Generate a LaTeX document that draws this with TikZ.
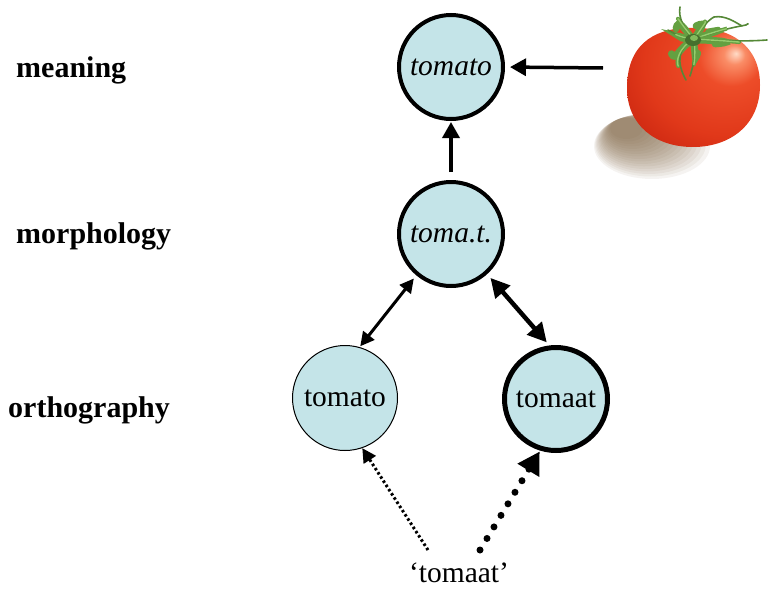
\documentclass[tikz,border=0pt]{standalone}
\usepackage{fontspec}
\setmainfont{Liberation Serif}
\usetikzlibrary{arrows.meta,calc}
\definecolor{nodefill}{RGB}{196,228,232}
\definecolor{leafgreen}{RGB}{100,160,65}
\definecolor{leaflight}{RGB}{150,205,110}
\definecolor{shadowbrown}{RGB}{120,92,58}
\pgfdeclareradialshading{tomshade}{\pgfpoint{16bp}{14bp}}{%
  rgb(0bp)=(1,0.86,0.78); rgb(4bp)=(0.98,0.55,0.4); rgb(12bp)=(0.93,0.3,0.16);
  rgb(30bp)=(0.88,0.22,0.1); rgb(48bp)=(0.76,0.12,0.05); rgb(62bp)=(0.6,0.06,0.03); rgb(100bp)=(0.55,0.05,0.02)}
\tikzset{
  every node/.style={font=\fontsize{29.5}{35}\selectfont},
  level/.style={font=\fontsize{30}{36}\selectfont\bfseries, anchor=base west, inner sep=0pt},
  circnode/.style={circle, fill=nodefill, draw=black, inner sep=0pt},
  thickc/.style={circnode, line width=4pt, minimum size=104pt},
  thinc/.style={circnode, line width=1pt, minimum size=105pt},
  heavyc/.style={circnode, line width=5pt, minimum size=103pt},
  arr/.style={line width=3.5pt, -{Triangle[length=16pt,width=17pt]}},
  dblthin/.style={line width=3pt, {Triangle[length=14pt,width=14pt]}-{Triangle[length=14pt,width=14pt]}},
  dblthick/.style={line width=4.5pt, {Triangle[length=19pt,width=19pt]}-{Triangle[length=19pt,width=19pt]}},
  finedots/.style={line width=3pt, dash pattern=on 2.5pt off 2.5pt, -{Triangle[length=14pt,width=14pt]}},
  bigdots/.style={line width=7pt, line cap=round, dash pattern=on 0pt off 13.5pt, -{Triangle[length=22pt,width=24pt]}},
  leafa/.style={draw=leafgreen, line width=7pt, line cap=round, shorten >=#1},
  leafb/.style={draw=leafgreen, line width=4pt, line cap=round, shorten >=#1},
  leafc/.style={draw=leafgreen!85!black, line width=1.6pt, line cap=round},
  leafhi/.style={draw=leaflight, line width=1.4pt, line cap=round, shorten >=#1}
}
\begin{document}
\begin{tikzpicture}[x=1pt,y=-1pt]
\useasboundingbox (0,0) rectangle (771,608);

% level labels
\node[level] (lm) at (16,77) {meaning};
\node[level] (lmo) at (16,243) {morphology};
\node[level] (lo) at (8,417) {orthography};

% circles
\node[thickc] (m) at (451,67) {\itshape tomato};
\node[thickc] (mo) at (451,234) {\itshape toma.t.};
\node[thinc] (o1) at (345,398) {tomato};
\node[heavyc] (o2) at (556,399) {tomaat};
\node[inner sep=0pt] (q) at (459,573) {‘tomaat’};

% tomato picture: shadow
\foreach \i in {0,...,16}{
  \fill[shadowbrown, opacity=0.07]
    ({652-1.6*\i},{146-1.1*\i}) ellipse ({58-2.6*\i} and {33-1.4*\i});
}
% body
\shade[shading=tomshade] (627,88) .. controls (627,40) and (660,27) .. (693,28)
  .. controls (730,27) and (760,45) .. (760,85)
  .. controls (760,125) and (730,147) .. (693,147)
  .. controls (655,147) and (627,125) .. (627,88) -- cycle;
% stem and sepals
\coordinate (stem) at (693,40);
\foreach \ax/\ay/\bx/\by/\tx/\ty/\sa/\sb in {
   684/28/678/18/680/7/22/12,
   682/38/675/34/668/30/17/9,
   700/30/708/20/714/17/20/10,
   712/32/730/28/746/25/38/20,
   715/40/740/42/767/40/52/28,
   678/48/676/62/686/80/30/16,
   696/52/694/64/690/76/24/12}{
  \draw[leafa=\sa pt] (stem) .. controls (\ax,\ay) and (\bx,\by) .. (\tx,\ty);
  \draw[leafb=\sb pt] (stem) .. controls (\ax,\ay) and (\bx,\by) .. (\tx,\ty);
  \draw[leafc] (stem) .. controls (\ax,\ay) and (\bx,\by) .. (\tx,\ty);
  \draw[leafhi=\sb pt] ($(stem)+(0.8,-0.8)$) .. controls (\ax,\ay) and (\bx,\by) .. (\tx,\ty);
}
\draw[leafc] (714,17) .. controls (725,15) and (735,22) .. (742,26);
\draw[leafc] (746,25) .. controls (749,22) and (749,26) .. (748,24);
\fill[leafgreen!70!black] (stem) ellipse (8 and 6);
\fill[leaflight!60!leafgreen] (694,38) ellipse (4 and 3);
\coordinate (imgw) at (603,68);

% connectors
\draw[arr, shorten >=5pt] (imgw) -- (m.east);
\draw[arr, shorten <=8pt, shorten >=1pt] (mo.north) -- (m.south);
\draw[dblthin, shorten <=4pt, shorten >=1pt] (mo.230) -- (o1.74);
\draw[dblthick, shorten <=5pt, shorten >=4pt] (mo.312) -- (o2.97);
\coordinate (qa) at (428,550);
\coordinate (qb) at (480,550);
\draw[finedots] (qa) -- (o1.289);
\draw[bigdots, shorten >=1pt] (qb) -- (o2.253);
\end{tikzpicture}
\end{document}
